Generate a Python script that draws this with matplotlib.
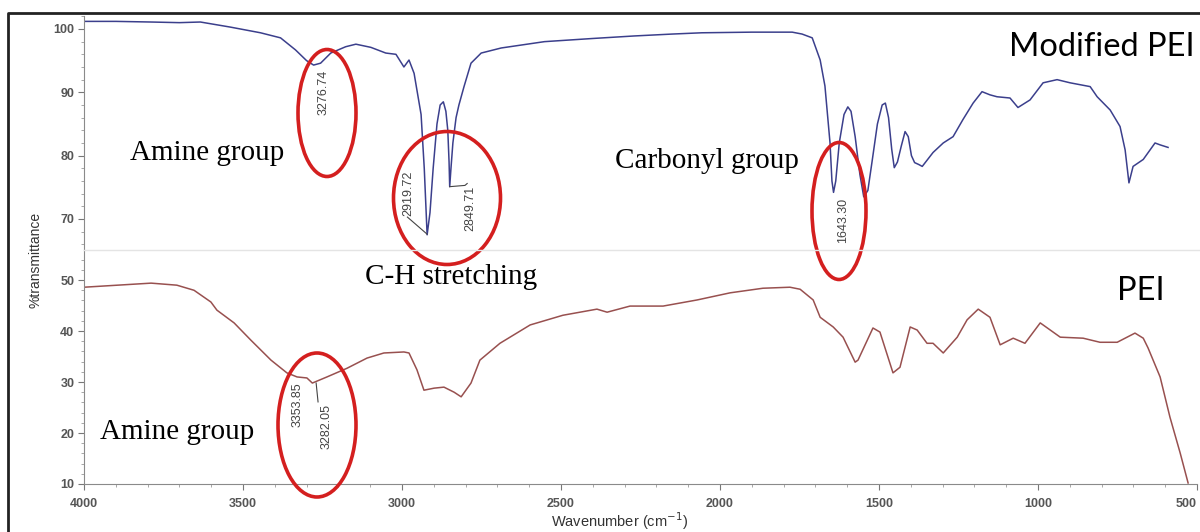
import matplotlib.pyplot as plt
from matplotlib.patches import Ellipse
from matplotlib.lines import Line2D
from matplotlib.ticker import MultipleLocator

# Modified PEI spectrum (wavenumber cm-1, %T)
mod_wn = [4000, 3900, 3789, 3700, 3634, 3540, 3445, 3382, 3335, 3300, 3278, 3256, 3224, 3177,
          3145, 3098, 3051, 3019, 2994, 2978, 2962, 2940, 2930, 2921, 2912, 2902, 2890, 2880,
          2870, 2862, 2856, 2852, 2850, 2846, 2840, 2830, 2821, 2805, 2783, 2751, 2688, 2620,
          2552, 2400, 2269, 2150, 2057, 1900, 1773, 1742, 1710, 1685, 1670, 1654, 1648, 1643,
          1636, 1625, 1610, 1598, 1588, 1575, 1560, 1548, 1535, 1522, 1505, 1490, 1480, 1470,
          1460, 1452, 1442, 1430, 1418, 1408, 1398, 1388, 1375, 1364, 1330, 1298, 1267, 1236,
          1204, 1176, 1151, 1129, 1088, 1063, 1025, 984, 940, 899, 836, 814, 773, 742, 726,
          714, 701, 669, 632, 616, 591]
mod_t = [101.2, 101.2, 101.1, 101.0, 101.1, 100.3, 99.4, 98.6, 96.7, 95.0, 94.3, 94.6, 96.2, 97.2,
         97.6, 97.1, 96.2, 96.0, 94.0, 95.1, 93.0, 86.5, 78.0, 67.5, 71.0, 78.0, 85.0, 88.0,
         88.5, 87.0, 84.0, 79.0, 75.1, 78.0, 82.0, 86.0, 88.0, 90.9, 94.6, 96.2, 97.0, 97.5,
         98.0, 98.5, 98.9, 99.2, 99.4, 99.5, 99.5, 99.2, 98.6, 95.1, 91.0, 82.0, 76.0, 74.2,
         76.0, 82.0, 86.5, 87.7, 87.0, 83.0, 77.0, 73.5, 74.5, 79.0, 85.0, 88.0, 88.3, 86.0,
         81.0, 78.1, 79.0, 81.5, 83.8, 83.0, 80.0, 78.9, 78.6, 78.3, 80.5, 82.0, 83.0, 85.7,
         88.3, 90.1, 89.6, 89.3, 89.1, 87.6, 88.8, 91.5, 92.0, 91.5, 90.9, 89.3, 87.2, 84.6, 80.9,
         75.7, 78.3, 79.4, 82.0, 81.7, 81.3]

# PEI spectrum
pei_wn = [4000, 3789, 3708, 3654, 3601, 3582, 3528, 3475, 3412, 3362, 3330, 3299, 3282, 3236,
          3173, 3110, 3057, 2994, 2978, 2953, 2931, 2899, 2868, 2836, 2814, 2783, 2755, 2692,
          2597, 2494, 2387, 2355, 2283, 2179, 2072, 1968, 1865, 1780, 1748, 1707, 1685, 1644,
          1613, 1575, 1566, 1519, 1497, 1456, 1434, 1402, 1380, 1349, 1330, 1298, 1254, 1223,
          1188, 1151, 1119, 1078, 1041, 993, 930, 858, 805, 751, 695, 669, 654, 616, 585, 553, 528]
pei_t = [48.6, 49.4, 49.0, 48.0, 45.7, 44.1, 41.6, 38.2, 34.3, 31.8, 31.0, 30.8, 29.8, 31.0,
         32.7, 34.7, 35.7, 35.9, 35.7, 32.4, 28.4, 28.8, 29.0, 28.0, 27.1, 29.8, 34.3, 37.6,
         41.2, 43.1, 44.3, 43.7, 44.9, 44.9, 46.1, 47.5, 48.4, 48.6, 48.2, 46.1, 42.7, 40.8,
         38.8, 33.9, 34.3, 40.6, 39.8, 31.8, 32.9, 40.8, 40.2, 37.6, 37.6, 35.7, 38.8, 42.2,
         44.3, 42.7, 37.3, 38.6, 37.6, 41.6, 38.8, 38.6, 37.8, 37.8, 39.6, 38.6, 36.7, 31.0,
         23.1, 16.1, 10.2]

x_ticks = [4000, 3500, 3000, 2500, 2000, 1500, 1000, 500]

# peak labels: (text, wavenumber, %T of label centre)
mod_peaks = [('3276.74', 3248, 90.0), ('2919.72', 2981, 74.1), ('2849.71', 2786, 71.6),
             ('1643.30', 1613, 69.8)]
pei_peaks = [('3353.85', 3327, 25.5), ('3282.05', 3236, 21.2)]

fig = plt.figure(figsize=(12, 5.32), dpi=100)
W, H = 1200, 532

def frac(x0, y0, x1, y1):
    return [x0 / W, 1 - y1 / H, (x1 - x0) / W, (y1 - y0) / H]

ax_top = fig.add_axes(frac(84, 16, 1197, 250))
ax_bot = fig.add_axes(frac(84, 250, 1197, 484))

ax_top.plot(mod_wn, mod_t, color='#3b3f8c', lw=1.1)
ax_bot.plot(pei_wn, pei_t, color='#98504f', lw=1.1)

ax_top.set_ylim(65.1, 102.05)
ax_bot.set_ylim(10, 55.9)

for ax in (ax_top, ax_bot):
    ax.set_xlim(4000, 500)
    ax.set_facecolor('none')
    for s in ('top', 'right'):
        ax.spines[s].set_visible(False)
    ax.spines['left'].set_color('#8a8a8a')
    ax.spines['bottom'].set_color('#8a8a8a')
    ax.yaxis.set_minor_locator(MultipleLocator(2))
    ax.tick_params(axis='y', which='major', length=4, color='#777777', labelsize=9,
                   labelcolor='#555555', pad=3)
    ax.tick_params(axis='y', which='minor', length=2, color='#999999')

ax_top.set_yticks([70, 80, 90, 100])
ax_bot.set_yticks([10, 20, 30, 40, 50])
ax_top.spines['bottom'].set_visible(False)
ax_top.tick_params(axis='x', which='both', bottom=False, labelbottom=False)

ax_bot.set_xticks(x_ticks)
ax_bot.xaxis.set_minor_locator(MultipleLocator(100))
ax_bot.tick_params(axis='x', which='major', length=4, color='#777777', labelsize=9,
                   labelcolor='#555555', pad=6)
ax_bot.tick_params(axis='x', which='minor', length=2, color='#999999')
for ax in (ax_top, ax_bot):
    for lab in ax.get_xticklabels() + ax.get_yticklabels():
        lab.set_fontfamily('Liberation Sans')
        lab.set_fontweight('bold')
# keep the last tick label inside the figure
ax_bot.get_xticklabels()[-1].set_horizontalalignment('right')

for txt, x, y in mod_peaks:
    ax_top.text(x, y, txt, rotation=90, ha='center', va='center', fontsize=9,
                color='#444444', family='Liberation Sans')
for txt, x, y in pei_peaks:
    ax_bot.text(x, y, txt, rotation=90, ha='center', va='center', fontsize=9,
                color='#444444', family='Liberation Sans')

# leader lines
ax_top.plot([2921, 2983], [67.6, 70.3], color='#444444', lw=0.8)
ax_top.plot([2850, 2802, 2795], [75.1, 75.3, 75.6], color='#444444', lw=0.8)
ax_bot.plot([3270, 3264], [29.8, 26.1], color='#444444', lw=0.8)

# overlay in pixel coordinates for frame, ellipses and captions
ov = fig.add_axes([0, 0, 1, 1], zorder=5)
ov.set_xlim(0, W)
ov.set_ylim(H, 0)
ov.axis('off')
ov.patch.set_alpha(0)

ov.add_line(Line2D([8, 8, 1200], [532, 13, 13], color='#222222', lw=2))
ov.add_line(Line2D([84, 1200], [250, 250], color='#e4e4e4', lw=1))

for cx, cy, w, h in [(327, 113, 58, 127), (447, 198, 107, 133),
                     (839, 211, 54, 137), (317, 425, 78, 144)]:
    ov.add_patch(Ellipse((cx, cy), w, h, fill=False, edgecolor='#d41f1f', lw=2.6))

serif = 'Liberation Serif'
ov.text(130, 153, 'Amine group', fontsize=21, family=serif, va='center', ha='left')
ov.text(365, 277, 'C-H stretching', fontsize=21, family=serif, va='center', ha='left')
ov.text(615, 161, 'Carbonyl group', fontsize=21, family=serif, va='center', ha='left')
ov.text(100, 432, 'Amine group', fontsize=21, family=serif, va='center', ha='left')
ov.text(1102, 47, 'Modified PEI', fontsize=23.5, family='Lato', va='center', ha='center')
ov.text(1141, 291, 'PEI', fontsize=23.5, family='Lato', va='center', ha='center')

ov.text(35, 260, '%transmittance', rotation=90, fontsize=10, family='Liberation Sans',
        va='center', ha='center', color='#333333')
ov.text(620, 521, 'Wavenumber (cm$^{-1}$)', fontsize=10.5, family='Liberation Sans',
        va='center', ha='center', color='#333333')

fig.savefig('out.png', dpi=100)
